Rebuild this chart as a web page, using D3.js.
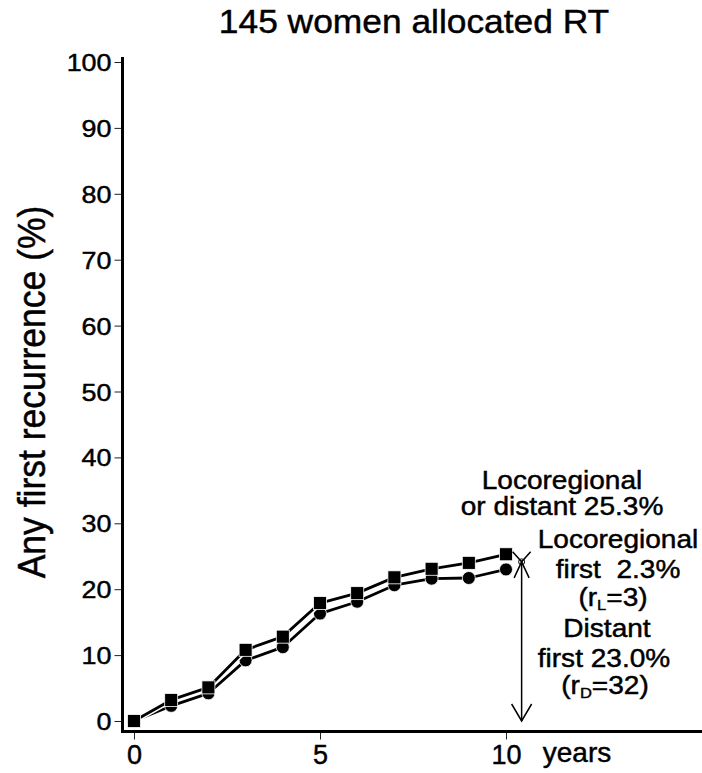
<!DOCTYPE html>
<html>
<head>
<meta charset="utf-8">
<script src="https://cdn.jsdelivr.net/npm/d3@7"></script>
<style>
  html, body { margin: 0; padding: 0; background: #fff; }
  svg { display: block; }
  text { font-family: "Liberation Sans", Arial, Helvetica, sans-serif; fill: #000; stroke: #000; stroke-width: 0.45px; }
</style>
</head>
<body>
<svg id="chart" width="702" height="773"></svg>
<script>
// Cumulative first recurrence, 145 women allocated RT
const years = [0, 1, 2, 3, 4, 5, 6, 7, 8, 9, 10];
const anyRecurrence = [0, 3.2, 5.1, 10.8, 12.8, 17.9, 19.4, 21.8, 23.1, 24.0, 25.3];   // locoregional or distant (squares)
const distantFirst  = [0, 2.3, 4.2, 9.2, 11.2, 16.3, 18.1, 20.6, 21.6, 21.7, 23.0];   // distant first (circles)
const yTicks = [0, 10, 20, 30, 40, 50, 60, 70, 80, 90, 100];
const xTicks = [0, 5, 10];

// 10-year summary figures
const totalAt10 = 25.3;
const locoFirstAt10 = 2.3;
const distantAt10 = 23.0;

const svg = d3.select("#chart");

const x = d3.scaleLinear().domain([0, 10]).range([134, 506]);
const y = d3.scaleLinear().domain([0, 100]).range([721, 62]);

const axisLeftX = 122.5;
const axisBottomY = 731.5;

// title
svg.append("text")
  .attr("transform", "translate(414,33) scale(1.04,1)")
  .attr("text-anchor", "middle")
  .style("font-size", "34px")
  .text("145 women allocated RT");

// y axis label
svg.append("text")
  .attr("transform", "translate(45,392) scale(1.1,1) rotate(-90)")
  .attr("text-anchor", "middle")
  .style("font-size", "35.5px")
  .text("Any first recurrence (%)");

// y axis
const yAxis = d3.axisLeft(y).tickValues(yTicks).tickSize(8).tickPadding(4).tickSizeOuter(0);
const gy = svg.append("g").attr("transform", `translate(${axisLeftX},0)`).call(yAxis);
gy.select(".domain").remove();
gy.selectAll(".tick line").attr("stroke", "#222").attr("stroke-width", 1);
gy.selectAll(".tick text")
  .attr("x", null)
  .attr("dy", null)
  .attr("transform", "translate(-11,8.5) scale(1.12,1)")
  .style("font-size", "24px")
  .style("font-family", "'Liberation Sans', Arial, sans-serif")
  .attr("fill", "#000");

svg.append("line")
  .attr("x1", axisLeftX).attr("x2", axisLeftX)
  .attr("y1", 57).attr("y2", axisBottomY + 1.5)
  .attr("stroke", "#000").attr("stroke-width", 3);

// x axis
const xAxis = d3.axisBottom(x).tickValues(xTicks).tickSize(8).tickPadding(0).tickSizeOuter(0);
const gx = svg.append("g").attr("transform", `translate(0,${axisBottomY})`).call(xAxis);
gx.select(".domain").remove();
gx.selectAll(".tick line").attr("stroke", "#222").attr("stroke-width", 1);
gx.selectAll(".tick text")
  .attr("y", null).attr("dy", null)
  .attr("transform", "translate(0,32)")
  .style("font-size", "27px")
  .style("font-family", "'Liberation Sans', Arial, sans-serif")
  .attr("fill", "#000");

svg.append("line")
  .attr("x1", axisLeftX - 1.5).attr("x2", 702)
  .attr("y1", axisBottomY).attr("y2", axisBottomY)
  .attr("stroke", "#000").attr("stroke-width", 3);

svg.append("text")
  .attr("x", 577).attr("y", 762)
  .attr("text-anchor", "middle")
  .style("font-size", "28px")
  .text("years");

// series
const line = d3.line().x(d => x(d[0])).y(d => y(d[1]));
const circlePts = years.map((t, i) => [t, distantFirst[i]]);
const squarePts = years.map((t, i) => [t, anyRecurrence[i]]);

function drawLine(pts) {
  svg.append("path").datum(pts).attr("d", line)
    .attr("fill", "none").attr("stroke", "#fff").attr("stroke-width", 6)
    .attr("stroke-linejoin", "round");
  svg.append("path").datum(pts).attr("d", line)
    .attr("fill", "none").attr("stroke", "#000").attr("stroke-width", 2.8)
    .attr("stroke-linejoin", "round");
}

drawLine(circlePts);
svg.append("g").selectAll("circle").data(circlePts).join("circle")
  .attr("cx", d => x(d[0])).attr("cy", d => y(d[1])).attr("r", 6.5)
  .attr("fill", "#000").attr("stroke", "#fff").attr("stroke-width", 0.8);

drawLine(squarePts);
const sq = 13;
svg.append("g").selectAll("rect").data(squarePts).join("rect")
  .attr("x", d => x(d[0]) - sq / 2).attr("y", d => y(d[1]) - sq / 2)
  .attr("width", sq).attr("height", sq)
  .attr("fill", "#000").attr("stroke", "#fff").attr("stroke-width", 0.8);

// 10-year breakdown arrows
const arrowX = x(10.42);
const midVal = (distantAt10 + totalAt10) / 2;
const yMid = y(midVal);
const yZero = y(0);
const arrowG = svg.append("g").attr("stroke", "#000").attr("stroke-width", 1.5).attr("fill", "none");

arrowG.append("line").attr("x1", arrowX).attr("x2", arrowX).attr("y1", yMid).attr("y2", yZero);
// head at 0 (pointing down)
arrowG.append("path").attr("d", `M${arrowX - 10},${yZero - 17}L${arrowX},${yZero}L${arrowX + 10},${yZero - 17}`);
// head pointing up toward distant total
arrowG.append("path").attr("d", `M${arrowX - 7.5},${yMid + 16}L${arrowX},${yMid}L${arrowX + 7.5},${yMid + 16}`);
// head pointing down from overall total
arrowG.append("path").attr("d", `M${arrowX - 9},${yMid - 10}L${arrowX},${yMid}L${arrowX + 9},${yMid - 10}`);
arrowG.append("circle").attr("cx", arrowX).attr("cy", yMid).attr("r", 3).attr("stroke-width", 1);

// annotations
function label(cx, baseline, parts) {
  const t = svg.append("text")
    .attr("transform", `translate(${cx},${baseline}) scale(1.1,1)`)
    .attr("text-anchor", "middle")
    .style("font-size", "25.5px")
    .style("white-space", "pre");
  parts.forEach(p => {
    const ts = t.append("tspan").text(p.t);
    if (p.sub) ts.style("font-size", "15px").attr("dy", 4);
    if (p.after) ts.attr("dy", -4);
  });
  return t;
}

label(562, 489, [{ t: "Locoregional" }]);
label(562, 515, [{ t: `or distant ${totalAt10.toFixed(1)}%` }]);

label(618, 548, [{ t: "Locoregional" }]);
label(618, 578, [{ t: `first  ${locoFirstAt10.toFixed(1)}%` }]);
label(613, 606, [{ t: "(r" }, { t: "L", sub: true }, { t: "=3)", after: true }]);

label(607, 637, [{ t: "Distant" }]);
label(604, 667, [{ t: `first ${distantAt10.toFixed(1)}%` }]);
label(605, 694, [{ t: "(r" }, { t: "D", sub: true }, { t: "=32)", after: true }]);
</script>
</body>
</html>
